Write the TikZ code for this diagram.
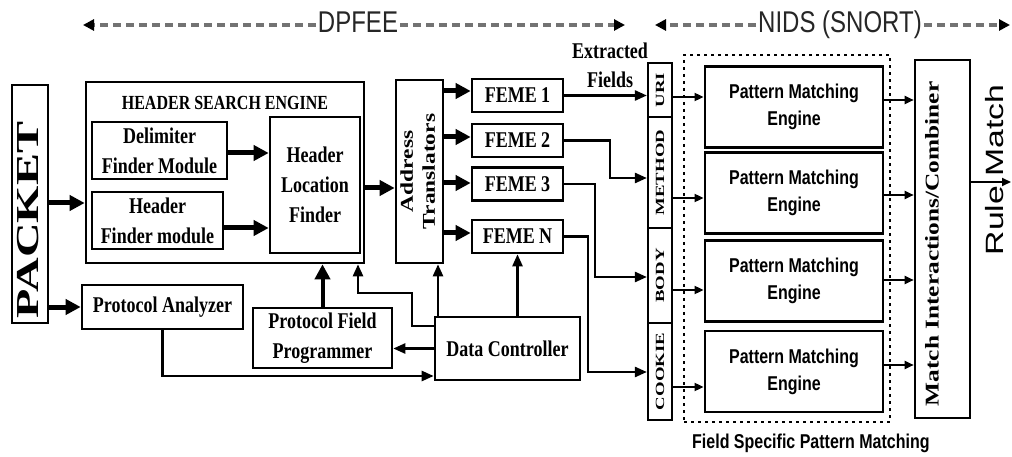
\documentclass[tikz,border=0pt]{standalone}
\usepackage{fontspec}
\usepackage{graphicx}
\usetikzlibrary{arrows.meta}
\setmainfont{Liberation Serif}
% condensed / widened faces for horizontal and upright lettering
\newfontfamily\boxserif[FakeStretch=0.8]{Liberation Serif}
\newfontfamily\upserif[FakeStretch=1.3]{Liberation Serif}
\newfontfamily\upserifx[FakeStretch=1.5]{Liberation Serif}
\newfontfamily\flatsans[FakeStretch=0.8]{Liberation Sans}
\newfontfamily\upsans[FakeStretch=1.35]{Liberation Sans}

\tikzset{
  blk/.style={draw, line width=2.6pt, inner sep=0pt, align=center,
    font=\boxserif\bfseries\fontsize{22.5}{30}\selectfont},
  fieldblk/.style={blk, line width=2.2pt, minimum width=24pt,
    font=\upserifx\bfseries\fontsize{12.5}{14}\selectfont},
  pmeblk/.style={blk, line width=2.8pt, minimum width=178pt, minimum height=81pt,
    font=\flatsans\bfseries\fontsize{20}{27}\selectfont},
  bigarrow/.style={line width=5pt, -{Triangle[length=15pt,width=15pt]}},
  midarrow/.style={line width=2.4pt, -{Triangle[length=12pt,width=10pt]}},
  smallarrow/.style={line width=1.8pt, -{Triangle[length=9pt,width=8pt]}},
  spanline/.style={line width=3.5pt, draw=black!55, dash pattern=on 8pt off 5pt,
    -{Triangle[length=11pt,width=11pt,color=black]}},
  spantext/.style={inner sep=0pt, anchor=base, text=black!85,
    font=\flatsans\fontsize{30}{34}\selectfont},
}

\begin{document}
\begin{tikzpicture}[x=1pt,y=-1pt]
\useasboundingbox (0,0) rectangle (1012,457);

% ---- section spans ----
\node[spantext] (dpfee) at (358,33) {DPFEE};
\coordinate (dpL) at (83,25);
\coordinate (dpR) at (625,25);
\draw[spanline] ([xshift=-2pt]dpfee.west |- dpL) -- (dpL);
\draw[spanline] ([xshift=2pt]dpfee.east |- dpR) -- (dpR);

\node[spantext] (nids) at (840,33) {NIDS (SNORT)};
\coordinate (nidsL) at (655,25);
\coordinate (nidsR) at (1010,25);
\draw[spanline] ([xshift=-2pt]nids.west |- nidsL) -- (nidsL);
\draw[spanline] ([xshift=2pt]nids.east |- nidsR) -- (nidsR);

% ---- packet input ----
\node[blk, minimum width=36pt, minimum height=238pt] (packet) at (30,204) {};
\node[rotate=90, inner sep=0pt, font=\upserifx\bfseries\fontsize{32}{36}\selectfont]
  (packettext) at (28,220) {PACKET};

% ---- header search engine ----
\node[blk, minimum width=278pt, minimum height=181pt] (hse) at (225,172.5) {};
\node[inner sep=0pt, font=\boxserif\bfseries\fontsize{20}{24}\selectfont]
  (hsetitle) at (225,103) {HEADER SEARCH ENGINE};
\node[blk, minimum width=135pt, minimum height=57pt] (delim) at (159.5,150.5) {Delimiter\\Finder Module};
\node[blk, minimum width=131pt, minimum height=57pt] (hfm) at (157.5,220.5) {Header\\Finder module};
\node[blk, minimum width=90pt, minimum height=136pt] (hlf) at (315,185) {Header\\Location\\Finder};

% ---- address translators and field extraction engines ----
\node[blk, minimum width=47pt, minimum height=183pt,
  font=\upserif\bfseries\fontsize{18}{22}\selectfont] (at) at (419.5,171.5)
  {\rotatebox{90}{\begin{tabular}{@{}c@{}}Address\\Translators\end{tabular}}};
\node[blk, minimum width=91pt, minimum height=33pt] (f1) at (517.5,95.5) {FEME 1};
\node[blk, minimum width=91pt, minimum height=33pt] (f2) at (517.5,140.5) {FEME 2};
\node[blk, minimum width=91pt, minimum height=33pt] (f3) at (517.5,184) {FEME 3};
\node[blk, minimum width=91pt, minimum height=33pt] (fn) at (517.5,236.5) {FEME N};

\node[inner sep=0pt, align=center, font=\boxserif\bfseries\fontsize{22.5}{29}\selectfont]
  (extracted) at (610,65.5) {Extracted\\Fields};

% ---- extracted field registers ----
\node[fieldblk, minimum height=54pt] (uri) at (660,90) {\rotatebox{90}{URI}};
\node[fieldblk, minimum height=111pt] (method) at (660,172.5) {\rotatebox{90}{METHOD}};
\node[fieldblk, minimum height=95pt] (body) at (660,275.5) {\rotatebox{90}{BODY}};
\node[fieldblk, minimum height=97pt] (cookie) at (660,371.5) {\rotatebox{90}{COOKIE}};

% ---- field specific pattern matching ----
\node[draw, line width=2.5pt, dash pattern=on 3pt off 4pt, minimum width=206pt,
  minimum height=367pt] (fspm) at (787,238.5) {};
\node[anchor=west, inner sep=0pt, font=\flatsans\bfseries\fontsize{20}{24}\selectfont]
  (fspmlabel) at (692,443) {Field Specific Pattern Matching};
\node[pmeblk] (pme1) at (794,107) {Pattern Matching\\Engine};
\node[pmeblk] (pme2) at (794,193) {Pattern Matching\\Engine};
\node[pmeblk] (pme3) at (794,281) {Pattern Matching\\Engine};
\node[pmeblk] (pme4) at (794,371.5) {Pattern Matching\\Engine};

% ---- match combiner ----
\node[blk, minimum width=55pt, minimum height=358pt] (mic) at (942.5,239) {};
\node[rotate=90, inner sep=0pt, font=\upserif\bfseries\fontsize{19.5}{22}\selectfont]
  (mictext) at (932,244) {Match Interactions/Combiner};
\node[rotate=90, inner sep=0pt, font=\upsans\fontsize{25}{28}\selectfont]
  (rulematch) at (995,170) {Rule Match};
\coordinate (ruleend) at (1011,182);

% ---- control path ----
\node[blk, minimum width=161pt, minimum height=44pt] (pa) at (162.5,307) {Protocol Analyzer};
\node[blk, minimum width=139pt, minimum height=60pt] (pfp) at (322.5,338) {Protocol Field\\Programmer};
\node[blk, minimum width=145pt, minimum height=63pt] (dc) at (507.5,348.5) {Data Controller};

% ---- data path connectors ----
\draw[bigarrow] (packet.east |- 0,203) -- (hse.west |- 0,203);
\draw[bigarrow] (packet.east |- pa.west) -- (pa.west);
\draw[bigarrow] (delim.east |- 0,153) -- (hlf.west |- 0,153);
\draw[bigarrow] (hfm.east |- 0,228) -- (hlf.west |- 0,228);
\draw[bigarrow] (hse.east |- 0,188) -- (at.west |- 0,188);
\draw[bigarrow] (at.east |- 0,91) -- (f1.west |- 0,91);
\draw[bigarrow] (at.east |- 0,137) -- (f2.west |- 0,137);
\draw[bigarrow] (at.east |- 0,183) -- (f3.west |- 0,183);
\draw[bigarrow] (at.east |- 0,233) -- (fn.west |- 0,233);
\draw[bigarrow, line width=4pt] (pfp.north) -- (pfp.north |- hse.south);

\draw[midarrow] (f1.east) -- (f1.east -| uri.west);
\draw[midarrow] (f2.east) -| (610,178) -- (method.west |- 0,178);
\draw[midarrow] (f3.east) -| (595,277) -- (body.west |- 0,277);
\draw[midarrow] (fn.east) -| (588,372) -- (cookie.west |- 0,372);

\draw[smallarrow] (uri.east |- 0,97) -- (pme1.west |- 0,97);
\draw[smallarrow] (method.east |- 0,198) -- (pme2.west |- 0,198);
\draw[smallarrow] (body.east |- 0,290) -- (pme3.west |- 0,290);
\draw[smallarrow] (cookie.east |- 0,387) -- (pme4.west |- 0,387);

\draw[smallarrow] (pme1.east |- 0,100) -- (mic.west |- 0,100);
\draw[smallarrow] (pme2.east |- 0,195) -- (mic.west |- 0,195);
\draw[smallarrow] (pme3.east |- 0,280) -- (mic.west |- 0,280);
\draw[smallarrow] (pme4.east |- 0,365) -- (mic.west |- 0,365);
\draw[smallarrow] (mic.east |- ruleend) -- (ruleend);

% ---- control connectors ----
\draw[midarrow] (dc.north -| 438,0) -- (at.south -| 438,0);
\draw[midarrow] (dc.north -| fn.south) -- (fn.south);
\draw[midarrow] (dc.west) -- (dc.west -| pfp.east);
\draw[midarrow] (dc.west |- 0,326) -| (412,293) -| (hse.south -| 358,0);
\draw[midarrow] (pa.south) |- (dc.west |- 0,376);
\end{tikzpicture}
\end{document}
